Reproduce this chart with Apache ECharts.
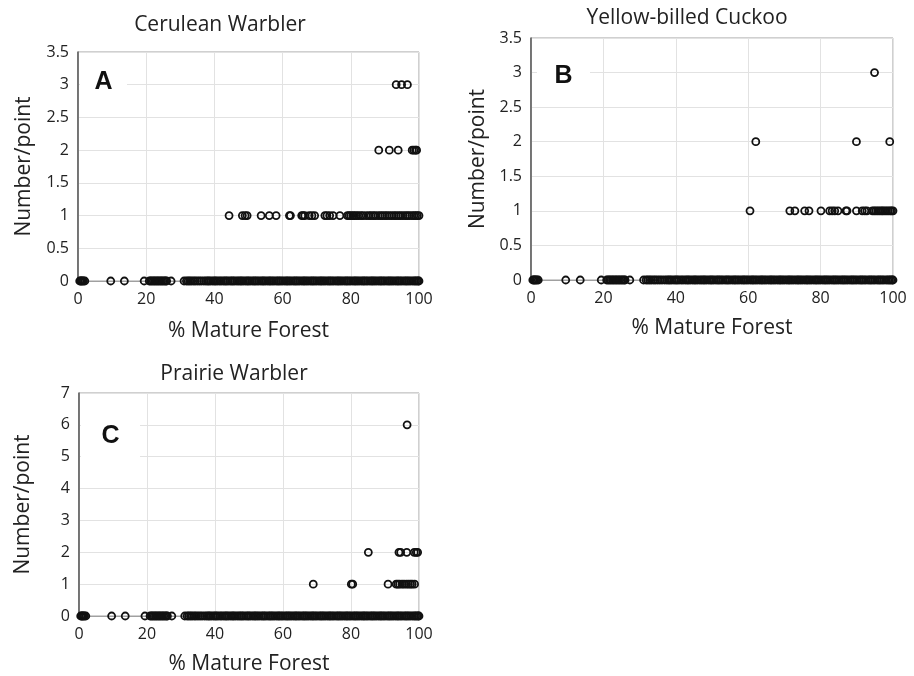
<!DOCTYPE html>
<html>
<head>
<meta charset="utf-8">
<script src="https://cdn.jsdelivr.net/npm/echarts@6/dist/echarts.min.js"></script>
<style>
  html, body { margin: 0; padding: 0; background: #fff; }
  #chart { width: 914px; height: 676px; }
</style>
</head>
<body>
<div id="chart"></div>
<script>
// survey points with zero count (same set of points in every panel)
const zeroX = [0.5, 0.8, 1.0, 1.3, 1.6, 2.0, 9.6, 13.6, 19.4,
  20.9, 21.3, 21.7, 22.1, 22.5, 22.9, 23.3, 23.7, 24.1, 24.5, 24.9, 25.3, 25.7, 26.0, 27.3,
  31.1, 31.8, 32.3, 32.8, 33.3, 33.9, 34.4, 35.0, 35.6, 36.2, 36.9, 37.5,
  38.0, 38.4, 38.9, 39.5, 40.0, 40.4, 40.9, 41.5, 42.0, 42.6, 43.1, 43.5, 44.0, 44.6, 45.1, 45.5, 46.0, 46.6, 47.1, 47.6,
  48.0, 48.5, 49.1, 49.6, 50.0, 50.5, 51.1, 51.6, 52.0, 52.5, 53.0, 53.6, 54.1, 54.5, 55.0, 55.6, 56.1, 56.5, 57.0, 57.5,
  58.1, 58.6, 59.0, 59.5, 60.0, 60.6, 61.1, 61.5, 62.0, 62.5, 63.1, 63.6, 64.0, 64.5, 65.0, 65.6, 66.1, 66.5, 67.0, 67.5,
  68.1, 68.6, 69.0, 69.5, 70.0, 70.6, 71.1, 71.5, 72.0, 72.5, 73.1, 73.6, 74.0, 74.5, 75.0, 75.6, 76.1, 76.5, 77.0, 77.5,
  78.1, 78.6, 79.0, 79.5, 80.0, 80.6, 81.1, 81.5, 82.0, 82.5, 83.1, 83.6, 84.0, 84.5, 85.0, 85.6, 86.1, 86.5, 87.0, 87.5,
  88.1, 88.6, 89.0, 89.5, 90.0, 90.6, 91.1, 91.5, 92.0, 92.5, 93.1, 93.6, 94.0, 94.5, 95.0, 95.6, 96.1, 96.5, 97.0, 97.5,
  98.1, 98.6, 99.0, 99.4, 99.8, 100];

// A - Cerulean Warbler
const ceruleanOne = [44.3, 48.2, 49.0, 49.6, 53.7, 56.1, 58.1, 62.0, 62.3, 65.6, 66.0, 66.5, 67.8, 68.6, 69.4, 72.4, 73.0,
  73.8, 74.8, 76.8, 79.0, 79.5, 80.0, 80.6, 81.1, 81.7, 82.3, 83.0, 83.6, 84.5, 85.3, 85.9, 86.6, 87.2, 88.0, 88.7,
  89.3, 90.0, 90.6, 91.3, 92.0, 92.7, 93.3, 94.0, 94.6, 95.3, 96.0, 96.6, 97.2, 97.9, 98.5, 99.0, 99.5, 100];
const ceruleanTwo = [88.2, 91.3, 93.9, 98.0, 98.5, 99.0, 99.3];
const ceruleanThree = [93.3, 94.9, 96.6];

// B - Yellow-billed Cuckoo
const cuckooOne = [60.5, 71.5, 72.9, 75.6, 76.8, 80.1, 82.5, 83.2, 83.9, 84.8, 87.0, 87.3, 89.9, 91.5, 92.2, 92.8,
  94.3, 94.8, 95.3, 95.8, 96.3, 96.8, 97.2, 97.7, 98.2, 98.7, 99.2, 99.6, 100];
const cuckooTwo = [62.1, 89.9, 99.1];
const cuckooThree = [94.9];

// C - Prairie Warbler
const prairieOne = [68.9, 80.1, 80.5, 90.9, 93.3, 93.8, 94.3, 95.0, 95.6, 96.3, 96.9, 97.5, 98.0, 98.7];
const prairieTwo = [85.1, 94.1, 94.6, 96.4, 98.6, 99.2, 99.6];
const prairieSix = [96.5];

const xTicks = [0, 20, 40, 60, 80, 100];

const font = '"Open Sans", "Liberation Sans", sans-serif';
const gridColor = '#e2e2e2';
const frameColor = '#a0a0a0';
const axisColor = '#555';

function pts(xs, y) {
  return xs.map(x => [x, y]);
}

function xAxisFor(idx, gap) {
  return {
    gridIndex: idx,
    type: 'value',
    min: xTicks[0],
    max: xTicks[xTicks.length - 1],
    interval: 20,
    name: '% Mature Forest',
    nameLocation: 'middle',
    nameGap: gap,
    nameTextStyle: { fontFamily: font, fontSize: 21, color: '#222' },
    axisLine: { show: true, lineStyle: { color: frameColor } },
    axisTick: { show: false },
    axisLabel: { fontFamily: font, fontSize: 16, color: '#222', margin: 10 },
    splitLine: { show: true, lineStyle: { color: gridColor } }
  };
}

function yAxisFor(idx, max, interval, gap) {
  return {
    gridIndex: idx,
    type: 'value',
    min: 0,
    max: max,
    interval: interval,
    name: 'Number/point',
    nameLocation: 'middle',
    nameGap: gap,
    nameTextStyle: { fontFamily: font, fontSize: 21, color: '#222' },
    axisLine: { show: true, lineStyle: { color: axisColor, width: 1.5 } },
    axisTick: { show: false },
    axisLabel: { fontFamily: font, fontSize: 16, color: '#222', margin: 9 },
    splitLine: { show: true, lineStyle: { color: gridColor } }
  };
}

// hollow markers with no fill, like the spreadsheet original, so overlaps merge
function scatter(idx, data) {
  return {
    type: 'scatter',
    xAxisIndex: idx,
    yAxisIndex: idx,
    data: data,
    symbol: 'circle',
    symbolSize: 7,
    clip: false,
    silent: true,
    itemStyle: { color: 'rgba(255,255,255,0)', borderColor: '#111', borderWidth: 1.8, opacity: 1 }
  };
}

function label(x, y, w, h, txt) {
  return [
    { type: 'rect', shape: { x: x, y: y, width: w, height: h }, style: { fill: '#fff' }, z: 10 },
    { type: 'text', x: x + w / 2, y: y + h / 2, z: 11,
      style: { text: txt, font: 'bold 25px "Liberation Sans", Arial, sans-serif', fill: '#111', align: 'center', verticalAlign: 'middle' } }
  ];
}

function heading(x, y, txt) {
  return { type: 'text', x: x, y: y, z: 11,
    style: { text: txt, font: '21px ' + font, fill: '#222', align: 'center', verticalAlign: 'middle' } };
}

const chart = echarts.init(document.getElementById('chart'), null, { renderer: 'canvas' });

chart.setOption({
  animation: false,
  backgroundColor: '#fff',
  grid: [
    { left: 78, top: 52, width: 341, height: 229, show: true, borderColor: frameColor, borderWidth: 1 },
    { left: 531, top: 38, width: 362, height: 242, show: true, borderColor: frameColor, borderWidth: 1 },
    { left: 79, top: 393, width: 340, height: 224, show: true, borderColor: frameColor, borderWidth: 1 }
  ],
  xAxis: [xAxisFor(0, 40), xAxisFor(1, 38), xAxisFor(2, 38)],
  yAxis: [yAxisFor(0, 3.5, 0.5, 43), yAxisFor(1, 3.5, 0.5, 42), yAxisFor(2, 7, 1, 45)],
  series: [
    scatter(0, pts(zeroX, 0)),
    scatter(0, pts(ceruleanOne, 1)),
    scatter(0, pts(ceruleanTwo, 2)),
    scatter(0, pts(ceruleanThree, 3)),
    scatter(1, pts(zeroX, 0)),
    scatter(1, pts(cuckooOne, 1)),
    scatter(1, pts(cuckooTwo, 2)),
    scatter(1, pts(cuckooThree, 3)),
    scatter(2, pts(zeroX, 0)),
    scatter(2, pts(prairieOne, 1)),
    scatter(2, pts(prairieTwo, 2)),
    scatter(2, pts(prairieSix, 6))
  ],
  graphic: [
    heading(220, 25, 'Cerulean Warbler'),
    heading(687, 18, 'Yellow-billed Cuckoo'),
    heading(234, 374, 'Prairie Warbler'),
    ...label(80, 64, 47, 36, 'A'),
    ...label(537, 58, 53, 36, 'B'),
    ...label(81, 405, 59, 62, 'C')
  ]
});
</script>
</body>
</html>
